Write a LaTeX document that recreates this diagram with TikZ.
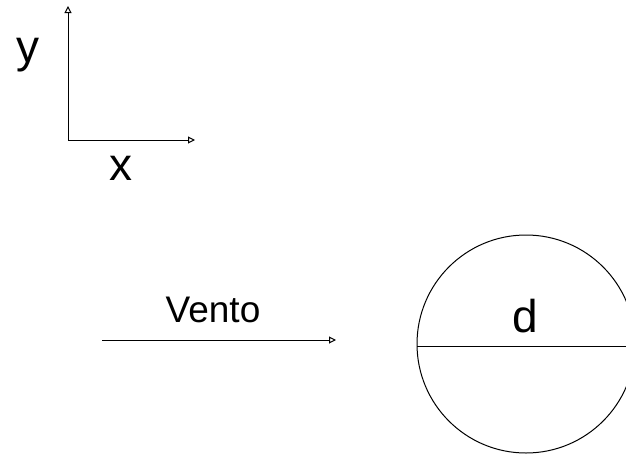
\documentclass[tikz,border=0pt]{standalone}
\usepackage{fontspec}
\setmainfont{Liberation Sans}
\usetikzlibrary{arrows.meta}
\begin{document}
\begin{tikzpicture}[x=1pt,y=-1pt,line width=1pt,
  seta/.style={-{Triangle[open,length=7pt,width=7pt]}},
  grande/.style={anchor=base,font=\fontsize{46}{46}\selectfont}]
\useasboundingbox (0,0) rectangle (626,455);
\coordinate (O) at (68,140);
\coordinate (Y) at (68,6);
\coordinate (X) at (195,140);

\draw[seta] (O)--(Y);
\draw[seta] (O)--(X);
\node[grande] (ly) at (28,62) {y};
\node[grande] (lx) at (121,180) {x};

\coordinate (A) at (102,340);
\coordinate (B) at (336,340);
\draw[seta] (A)--(B);
\node[anchor=base,font=\fontsize{37}{37}\selectfont] (vento) at (213,322) {Vento};

\coordinate (C) at (526,344);
\coordinate (L) at (417,346);
\coordinate (R) at (626,346);
\draw (C) circle[radius=109];
\draw (L)--(R);
\node[grande] (d) at (525,332) {d};

\end{tikzpicture}
\end{document}
